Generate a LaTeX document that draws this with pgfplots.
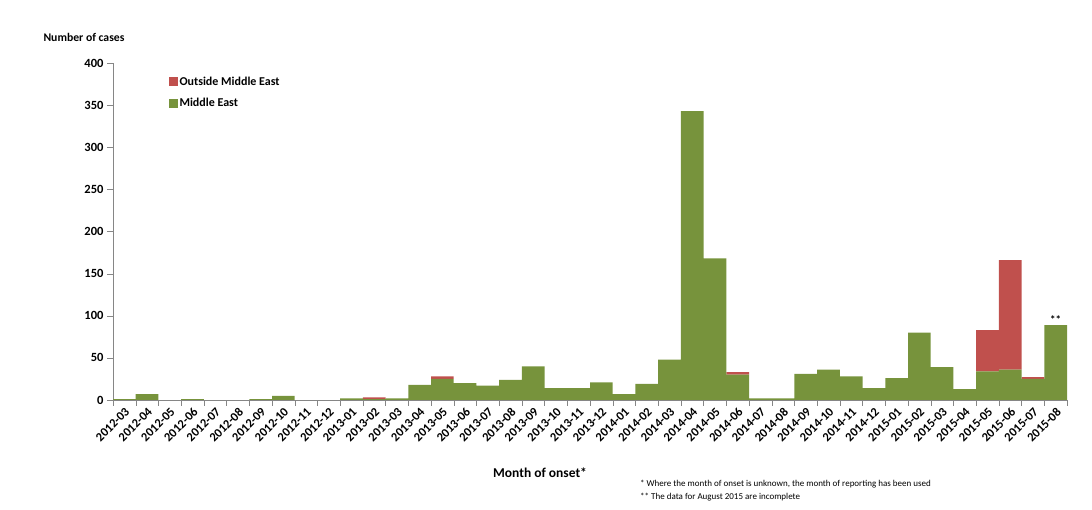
\documentclass[border=0pt]{standalone}
\usepackage{pgfplots}
\pgfplotsset{compat=1.18}
\usepackage{fontspec}
\setmainfont{Carlito}
\definecolor{me}{HTML}{77933C}
\definecolor{ome}{HTML}{C0504D}
\definecolor{axgray}{HTML}{868686}
\pgfplotstableread{
idx me out
0 1 0
1 7 0
2 0 0
3 1 0
4 0 0
5 0 0
6 1 0
7 5 0
8 0 0
9 0 0
10 2 0
11 1 2
12 2 0
13 18 0
14 25 3
15 20 0
16 17 0
17 24 0
18 40 0
19 14 0
20 14 0
21 21 0
22 7 0
23 19 0
24 48 0
25 343 0
26 168 0
27 30 3
28 2 0
29 2 0
30 31 0
31 36 0
32 28 0
33 14 0
34 26 0
35 80 0
36 39 0
37 13 0
38 34 49
39 36 130
40 25 2
41 89 0
}\datatable
\begin{document}
\begin{tikzpicture}[x=1pt,y=1pt]
\useasboundingbox (0,0) rectangle (1092,510);
\begin{axis}[
  at={(113pt,110pt)}, anchor=south west,
  scale only axis, width=954pt, height=337pt,
  ybar stacked, bar width=1,
  xmin=-0.5, xmax=41.5, ymin=0, ymax=400,
  axis x line=bottom, axis y line=left,
  axis line style={-, draw=axgray},
  xtick={0,...,41},
  xticklabels={2012-03,2012-04,2012-05,2012-06,2012-07,2012-08,2012-09,2012-10,2012-11,2012-12,
    2013-01,2013-02,2013-03,2013-04,2013-05,2013-06,2013-07,2013-08,2013-09,2013-10,2013-11,2013-12,
    2014-01,2014-02,2014-03,2014-04,2014-05,2014-06,2014-07,2014-08,2014-09,2014-10,2014-11,2014-12,
    2015-01,2015-02,2015-03,2015-04,2015-05,2015-06,2015-07,2015-08},
  xticklabel style={rotate=45, anchor=north east, inner sep=0.5pt, font=\bfseries\fontsize{12.5}{13}\selectfont},
  x tick style={draw=none},
  minor xtick={-0.5,0.5,...,41.5},
  minor x tick style={draw=axgray},
  minor tick length=6pt,
  ytick={0,50,...,400},
  yticklabel style={font=\bfseries\fontsize{12.5}{13}\selectfont},
  /pgf/number format/assume math mode=true,
  y tick style={draw=axgray},
  major tick length=6pt,
  tick align=outside,
  legend style={at={(0.058,0.966)}, anchor=north west, draw=none, fill=none,
    font=\bfseries\fontsize{12}{13}\selectfont, row sep=8pt, inner sep=0pt},
  legend cell align=left,
  reverse legend,
  legend image code/.code={\fill[#1] (0pt,-4.5pt) rectangle (9pt,4.5pt);},
]
\addplot[fill=me, draw=none] table[x=idx, y=me] {\datatable};
\addlegendentry{Middle East}
\addplot[fill=ome, draw=none] table[x=idx, y=out] {\datatable};
\addlegendentry{Outside Middle East}
\node[anchor=south, font=\bfseries\fontsize{11}{11}\selectfont, inner sep=1pt] at (axis cs:41,89) {**};
\end{axis}
\node[anchor=west, font=\bfseries\fontsize{11.7}{12}\selectfont] at (40,473) {Number of cases};
\node[font=\bfseries\fontsize{13.5}{14}\selectfont] at (540,37) {Month of onset*};
\node[anchor=west, font=\fontsize{9}{9}\selectfont, inner sep=0pt] at (640,26) {* Where the month of onset is unknown, the month of reporting has been used};
\node[anchor=west, font=\fontsize{9}{9}\selectfont, inner sep=0pt] at (640,13) {** The data for August 2015 are incomplete};
\end{tikzpicture}
\end{document}
